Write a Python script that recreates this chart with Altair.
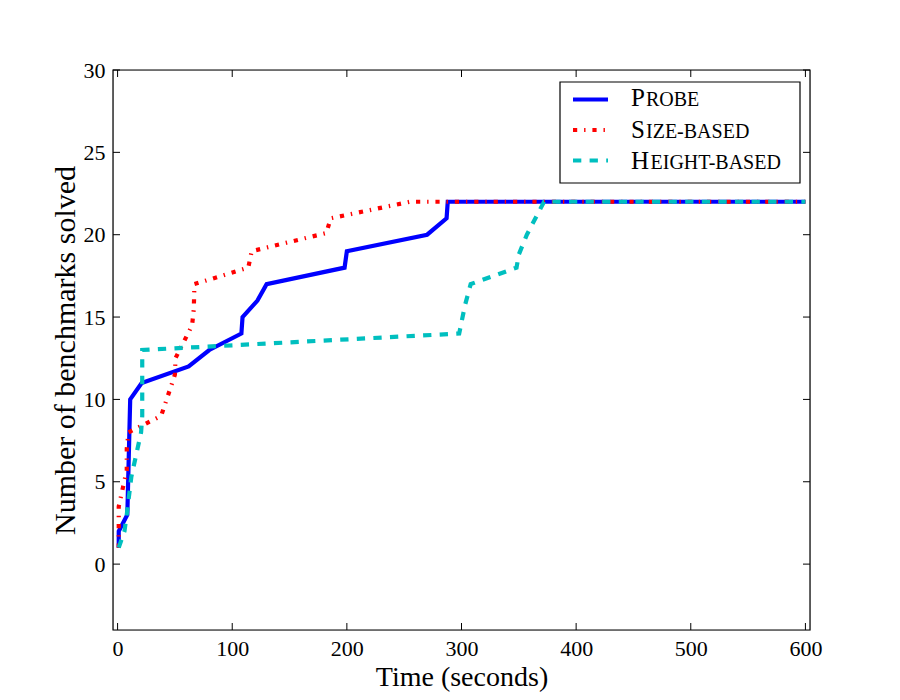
import altair as alt
import pandas as pd

# ---- data ----
probe_t = [1, 1, 8.5, 11, 21, 62, 80, 108, 109, 122, 130, 198, 200, 270, 287, 288, 600]
probe_v = [1, 2, 3, 10, 11, 12, 13, 14, 15, 16, 17, 18, 19, 20, 21, 22, 22]

size_t = [1, 1, 8, 8, 9.5, 38, 50, 50.5, 65, 66.5, 67, 114, 117, 182, 186, 255, 600]
size_v = [1, 3.5, 5.7, 7, 8, 9, 11.5, 12.5, 14.5, 15.5, 17, 18, 19, 20.1, 21, 22, 22]

height_t = [1, 6, 8, 12, 20.5, 21.5, 21.5, 298, 303, 308, 348, 350, 357, 372, 600]
height_v = [1, 2, 3, 5.3, 8, 9, 13, 14, 15.7, 17, 18, 18.8, 20, 22, 22]

x_ticks = [0, 100, 200, 300, 400, 500, 600]
y_ticks = [0, 5, 10, 15, 20, 25, 30]

FONT = "Liberation Serif"
W, H = 697, 560


def series_df(t, v):
    return pd.DataFrame({"t": t, "v": v, "i": list(range(len(t)))})


X = alt.X(
    "t:Q",
    scale=alt.Scale(domain=[-4, 604], nice=False, zero=False),
    axis=alt.Axis(values=x_ticks, title="Time (seconds)", format="d",
                  grid=False, ticks=False, domain=False, labelPadding=8,
                  titlePadding=4, labelFontSize=22, titleFontSize=28,
                  labelFont=FONT, titleFont=FONT, titleFontWeight="normal",
                  labelColor="black", titleColor="black"),
)
Y = alt.Y(
    "v:Q",
    scale=alt.Scale(domain=[-4, 30], nice=False, zero=False),
    axis=alt.Axis(values=y_ticks, title="Number of benchmarks solved", format="d",
                  grid=False, ticks=False, domain=False, labelPadding=8,
                  titlePadding=3, labelFontSize=22, titleFontSize=30,
                  labelFont=FONT, titleFont=FONT, titleFontWeight="normal",
                  labelColor="black", titleColor="black"),
)


def line(t, v, color, dash):
    kw = dict(color=color, strokeWidth=4.2, strokeCap="butt", strokeJoin="miter", clip=True)
    if dash:
        kw["strokeDash"] = dash
    return alt.Chart(series_df(t, v)).mark_line(**kw).encode(
        x=X, y=Y, order=alt.Order("i:Q")
    )


probe = line(probe_t, probe_v, "#0000ff", None)
size = line(size_t, size_v, "#ff0000", [4.2, 6.9, 1.4, 6.9])
height = line(height_t, height_v, "#00bfbf", [8.3, 8.3])

xt = pd.DataFrame({"t": x_ticks})
yt = pd.DataFrame({"v": y_ticks})
TL = 7
tick_style = dict(color="black", strokeWidth=1)
ticks = [
    alt.Chart(xt).mark_rule(**tick_style).encode(x=X, y=alt.value(H), y2=alt.value(H - TL)),
    alt.Chart(xt).mark_rule(**tick_style).encode(x=X, y=alt.value(0), y2=alt.value(TL)),
    alt.Chart(yt).mark_rule(**tick_style).encode(y=Y, x=alt.value(0), x2=alt.value(TL)),
    alt.Chart(yt).mark_rule(**tick_style).encode(y=Y, x=alt.value(W), x2=alt.value(W - TL)),
]

one = alt.Data(values=[{"k": 0}])
frame = alt.Chart(one).mark_rect(fillOpacity=0, stroke="black", strokeWidth=1.2).encode(
    x=alt.value(0), x2=alt.value(W), y=alt.value(0), y2=alt.value(H)
)

# ---- legend (drawn by hand for the small-caps labels) ----
legend_layers = [
    alt.Chart(one).mark_rect(fill="white", stroke="black", strokeWidth=1.2).encode(
        x=alt.value(447), x2=alt.value(687), y=alt.value(12), y2=alt.value(113)
    )
]
legend_rows = [
    ("P", "ROBE", "#0000ff", None, 29.5, 36, 533),
    ("S", "IZE-BASED", "#ff0000", [4.2, 6.9, 1.4, 6.9], 60, 68, 533),
    ("H", "EIGHT-BASED", "#00bfbf", [8.3, 8.3], 90.5, 99, 537.5),
]
for first, rest, color, dash, ly, by, rx in legend_rows:
    kw = dict(color=color, strokeWidth=4.2, strokeCap="butt")
    if dash:
        kw["strokeDash"] = dash
    legend_layers.append(
        alt.Chart(one).mark_rule(**kw).encode(x=alt.value(460), x2=alt.value(495), y=alt.value(ly))
    )
    legend_layers.append(
        alt.Chart(one).mark_text(text=first, font=FONT, fontSize=25, align="left",
                                 baseline="alphabetic", color="black").encode(
            x=alt.value(518), y=alt.value(by))
    )
    legend_layers.append(
        alt.Chart(one).mark_text(text=rest, font=FONT, fontSize=20, align="left",
                                 baseline="alphabetic", color="black").encode(
            x=alt.value(rx), y=alt.value(by))
    )

chart = alt.layer(probe, size, height, *ticks, frame, *legend_layers).properties(
    width=W,
    height=H,
    autosize="none",
    padding={"left": 105, "top": 62, "right": 80, "bottom": 70},
).configure_view(strokeWidth=0).configure(background="white")

chart.save("out.html", embed_options={"renderer": "svg", "actions": False})
